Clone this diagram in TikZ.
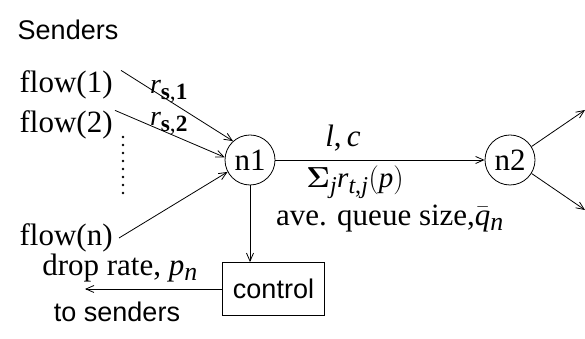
\documentclass[tikz,border=0pt]{standalone}
\usepackage{fix-cm}
\usepackage{amsmath}
\usepackage{fontspec}
\setmainfont{Liberation Serif}
\setsansfont{Liberation Sans}
\usepackage[italic]{mathastext}
\usetikzlibrary{positioning, shapes, arrows, arrows.meta}

\tikzset{
  router/.style={draw, circle, minimum size=50pt, inner sep=0pt},
  ctrlbox/.style={draw, rectangle, minimum width=102pt, minimum height=53pt, inner sep=0pt},
  lbl/.style={inner sep=0pt},
  sanstxt/.style={font=\fontsize{27}{29}\selectfont\sffamily},
}

\begin{document}
\begin{tikzpicture}[x=1pt, y=1pt, font=\fontsize{31}{33}\selectfont, line width=0.8pt,
  >={Straight Barb[length=8pt, width=7pt, line width=0.8pt]}]
\useasboundingbox (0,0) rectangle (585,339);

% the senders on the left
\node[lbl, sanstxt] (senders) at (68,309) {Senders};
\node[lbl, anchor=east] (f1) at (113,254) {flow(1)};
\node[lbl, anchor=east] (f2) at (113,214) {flow(2)};
\node[lbl, anchor=east] (fn) at (113,101) {flow(n)};
\coordinate (dtop) at (123,202);
\coordinate (dbot) at (123,146);
\draw[line width=2.6pt, line cap=round, dash pattern=on 0pt off 8pt] (dtop) -- (dbot);

% the two routers and the control box
\node[router] (n1) at (250,179) {n1};
\node[router] (n2) at (510,179) {n2};
\node[ctrlbox, sanstxt] (ctrl) at (273.5,50) {control};

% the flows into n1
\draw[->] ([xshift=8pt]f1.north east) -- (n1.132);
\node[lbl, font=\fontsize{28}{30}\selectfont] (rs1) at (169,247) {$r_{\mathbf{s,1}}$};
\draw[->] ([xshift=2pt]f2.north east) -- (n1.174);
\node[lbl, font=\fontsize{28}{30}\selectfont] (rs2) at (169,215) {$r_{\mathbf{s,2}}$};
\draw[->] ([xshift=6pt]fn.east) -- (n1.208);

% the link n1 -- n2
\draw[->] (n1) -- (n2);
\node[lbl] (lc) at (343,201) {$l,c$};
\node[lbl, font=\fontsize{29}{31}\selectfont] (sum) at (355,157) {$\boldsymbol{\Sigma}_j r_{t,j}(p)$};
\node[lbl] (queue) at (390,120) {ave. queue size,$\bar{q}_n$};

% out of n2
\coordinate (o1) at (585,229);
\coordinate (o2) at (585,129);
\draw[->] (n2.32) -- (o1);
\draw[->] (n2.-32) -- (o2);

% feedback loop
\draw[->] (n1.south) -- (n1.south |- ctrl.north);
\coordinate (back) at (85,50);
\draw[->] (ctrl.west) -- (back);
\node[lbl] (drop) at (120,71) {drop rate, $p_n$};
\node[lbl, sanstxt] (tosend) at (117,27) {to senders};
\end{tikzpicture}
\end{document}
